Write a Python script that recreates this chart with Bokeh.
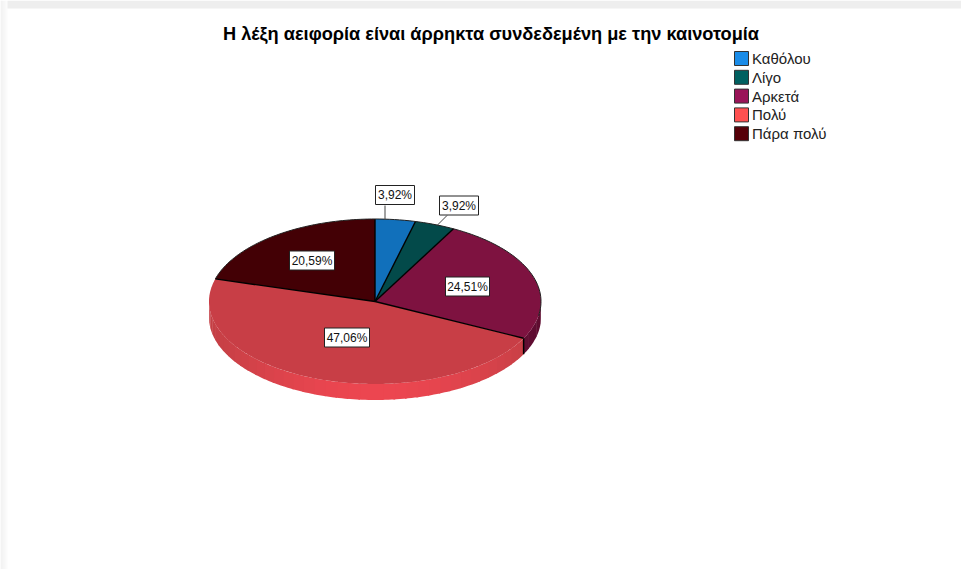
import numpy as np
from bokeh.plotting import figure
from bokeh.models import Range1d
from bokeh.core.properties import value
from bokeh.embed import file_html
from bokeh.resources import INLINE

title = "Η λέξη αειφορία είναι άρρηκτα συνδεδεμένη με την καινοτομία"
categories = ["Καθόλου", "Λίγο", "Αρκετά", "Πολύ", "Πάρα πολύ"]
percent = [3.92, 3.92, 24.51, 47.06, 20.59]
top_colors = ["#1170BB", "#034A4A", "#7E1240", "#C83E46", "#430005"]
legend_colors = ["#1A8CE8", "#006060", "#9A1458", "#FF5050", "#560008"]
side_edge = ["#0E5C9A", "#023A3A", "#5E0C30", "#C43F45", "#320004"]
side_mid = ["#1170BB", "#034A4A", "#7E1240", "#EC4650", "#430005"]

# layout (page pixels)
cx, cy, rx, ry, depth = 374.5, 301.0, 166.0, 82.5, 16.0
label_centres = [(394.5, 194.5), (458.5, 205), (467, 286), (346.5, 337), (311.5, 260)]
label_sizes = [(39, 19), (39, 19), (44, 19), (45, 19), (45, 19)]
leaders = [((384.5, 205), (384.5, 219)), ((446.5, 215), (436.5, 225))]

W, H = 961, 569
p = figure(width=W, height=H, output_backend="svg", toolbar_location=None,
           x_range=Range1d(0, W), y_range=Range1d(H, 0),
           min_border=0, outline_line_color=None, background_fill_color="white",
           border_fill_color="white")
p.axis.visible = False
p.grid.visible = False


def hex2rgb(h):
    return np.array([int(h[i:i + 2], 16) for i in (1, 3, 5)], dtype=float)


def rgb2hex(c):
    return "#%02X%02X%02X" % tuple(int(round(v)) for v in c)


# faint window frame along the top and left
band_cols = ["#EEEEEE", "#EFEFEF", "#F1F1F1", "#F3F3F3", "#F5F5F5", "#F8F8F8", "#FBFBFB"]
for k, c in enumerate(band_cols):
    p.quad(left=k, right=k + 1, top=0, bottom=H, fill_color=c, line_color=None)
p.quad(left=7, right=W, top=0, bottom=8, fill_color="#EEEEEE", line_color=None)

edges = np.concatenate([[0.0], np.cumsum(percent)]) / sum(percent) * 360.0

# side wall: narrow shaded strips along the front half of the ellipse
for i in range(len(percent)):
    a0, a1 = max(edges[i], 90.0), min(edges[i + 1], 270.0)
    if a1 <= a0:
        continue
    n = max(1, int((a1 - a0) / 4))
    bounds = np.linspace(a0, a1, n + 1)
    xs, ys, cols = [], [], []
    for b0, b1 in zip(bounds[:-1], bounds[1:]):
        t = np.radians(np.linspace(b0, b1 + 0.6 if b1 < a1 else b1, 5))
        ex = cx + rx * np.sin(t)
        ey = cy - ry * np.cos(t)
        xs.append(list(ex) + list(ex[::-1]))
        ys.append(list(ey) + list((ey + depth)[::-1]))
        mid = np.radians((b0 + b1) / 2)
        f = max(0.0, -np.cos(mid)) ** 2.5
        cols.append(rgb2hex(hex2rgb(side_edge[i]) * (1 - f) + hex2rgb(side_mid[i]) * f))
    p.patches(xs, ys, fill_color=cols, line_color=None)

# vertical edge at the purple/red boundary
a = np.radians(edges[3])
ex, ey = cx + rx * np.sin(a), cy - ry * np.cos(a)
p.line([ex, ex], [ey, ey + depth], line_color="black", line_width=1.5)

# top face, then radial edges and the dark rim on the back half
for i in range(len(percent)):
    t = np.radians(np.linspace(edges[i], edges[i + 1], max(3, int(edges[i + 1] - edges[i]) + 2)))
    xs = [cx] + list(cx + rx * np.sin(t)) + [cx]
    ys = [cy] + list(cy - ry * np.cos(t)) + [cy]
    p.patch(xs, ys, fill_color=top_colors[i], line_color=None)
for e in edges[:-1]:
    t = np.radians(e)
    p.line([cx, cx + rx * np.sin(t)], [cy, cy - ry * np.cos(t)], line_color="black", line_width=1.4)
for a0, a1 in ((edges[4], 360.0), (0.0, 100.0)):
    t = np.radians(np.linspace(a0, a1, 60))
    p.line(cx + rx * np.sin(t), cy - ry * np.cos(t), line_color="#222222", line_width=1)

# leaders
for (x0, y0), (x1, y1) in leaders:
    p.line([x0, x1], [y0, y1], line_color="#444444", line_width=1)

# data labels
labels = [f"{v:.2f}".replace(".", ",") + "%" for v in percent]
lx = [c[0] for c in label_centres]
ly = [c[1] for c in label_centres]
p.rect(lx, ly, width=[s[0] for s in label_sizes], height=[s[1] for s in label_sizes],
       fill_color="white", line_color="#222222", line_width=1)
p.text(lx, ly, text=labels, text_align="center", text_baseline="middle",
       text_font=value("Liberation Sans"), text_font_size="12px", text_color="#111111")

# title
p.text([490.5], [33], text=[title], text_align="center", text_baseline="middle",
       text_font=value("Liberation Sans"), text_font_style="bold", text_font_size="18.2px",
       text_color="black")

# legend
leg_x, leg_y0, leg_step = 741, 58, 18.8
leg_y = [leg_y0 + leg_step * i for i in range(len(categories))]
p.rect([leg_x] * len(categories), leg_y, width=14, height=14,
       fill_color=legend_colors, line_color="#333333", line_width=1)
p.text([751.5] * len(categories), leg_y, text=categories, text_align="left", text_baseline="middle",
       text_font=value("Liberation Sans"), text_font_size="15px", text_color="#222222")

open("out.html", "w").write(file_html(p, INLINE))
